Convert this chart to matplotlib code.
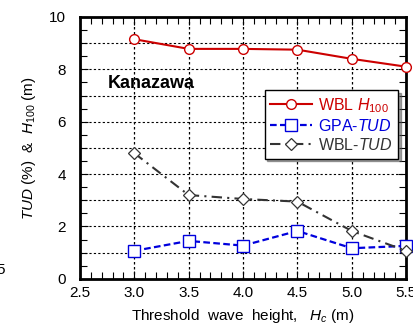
import numpy as np
import matplotlib
matplotlib.use("Agg")
import matplotlib.pyplot as plt
from matplotlib.ticker import MultipleLocator

plt.rcParams['font.family'] = ['Liberation Sans', 'DejaVu Sans']
plt.rcParams['mathtext.fontset'] = 'custom'
plt.rcParams['mathtext.rm'] = 'Liberation Sans'
plt.rcParams['mathtext.it'] = 'Liberation Sans:italic'

# threshold wave heights (m)
hc = [3.0, 3.5, 4.0, 4.5, 5.0, 5.5]
# return wave height H100 (m) and TUD (%) for each threshold
wbl_h100 = [9.15, 8.78, 8.78, 8.75, 8.40, 8.10]
gpa_tud = [1.07, 1.45, 1.27, 1.83, 1.17, 1.26]
wbl_tud = [4.80, 3.20, 3.05, 2.95, 1.83, 1.07]

fig = plt.figure(figsize=(4.14, 3.32), dpi=100)
ax = fig.add_axes([0.193, 0.160, 0.788, 0.789])

# dotted grid: every 1 on y, every 0.5 on x
for yv in range(1, 10):
    ax.axhline(yv, color='black', ls=(0, (2, 2)), lw=0.8, zorder=1)
for xv in [3.0, 3.5, 4.0, 4.5, 5.0]:
    ax.axvline(xv, color='black', ls=(0, (2, 2)), lw=0.9, zorder=1)

ax.plot(hc, wbl_h100, color='#cc0000', lw=1.5, marker='o', ms=7,
        mfc='white', mec='#cc0000', mew=1.0, label=r'WBL $\it{H}_{\rm 100}$', zorder=5,
        clip_on=False)
ax.plot(hc, gpa_tud, color='#0000dd', lw=1.6, ls=(0, (3, 1.5)), marker='s', ms=8,
        mfc='white', mec='#0000dd', mew=1.0, label=r'GPA-$\it{TUD}$', zorder=5,
        clip_on=False)
ax.plot(hc, wbl_tud, color='#333333', lw=1.5, ls=(0, (5, 2.5, 1, 2.5)), marker='D', ms=6.5,
        mfc='white', mec='#333333', mew=0.9, label=r'WBL-$\it{TUD}$', zorder=5,
        clip_on=False)

ax.set_xlim(2.5, 5.5)
ax.set_ylim(0, 10)
ax.xaxis.set_major_locator(MultipleLocator(0.5))
ax.xaxis.set_minor_locator(MultipleLocator(0.1))
ax.yaxis.set_major_locator(MultipleLocator(2))
ax.yaxis.set_minor_locator(MultipleLocator(0.5))
ax.xaxis.set_major_formatter(matplotlib.ticker.FormatStrFormatter('%.1f'))
ax.tick_params(which='both', direction='in', top=True, right=True,
               labelsize=11, width=0.8)
ax.tick_params(which='major', length=6)
ax.tick_params(which='minor', length=5)
ax.tick_params(axis='y', which='major', pad=10)
ax.tick_params(axis='x', which='major', pad=5)
for sp in ax.spines.values():
    sp.set_linewidth(2.0)

ax.set_xlabel(r'Threshold  wave  height,   $\it{H}_{c}$ (m)', fontsize=11, labelpad=5)
ax.set_ylabel(r'$\it{TUD}$ (%)  &  $\it{H}_{\rm 100}$ (m)', fontsize=11, labelpad=8)

ax.text(2.76, 7.45, 'Kanazawa', fontsize=13, fontweight='bold', va='center', zorder=6)

leg = ax.legend(loc='upper right', bbox_to_anchor=(0.975, 0.72), fontsize=11.5,
                frameon=True, fancybox=False, shadow=True, borderpad=0.35,
                handlelength=2.6, handletextpad=0.4, labelspacing=0.2,
                borderaxespad=0)
leg.get_frame().set_edgecolor('black')
leg.get_frame().set_linewidth(1.0)
leg.set_zorder(10)
for txt, c in zip(leg.get_texts(), ['#cc0000', '#0000dd', '#333333']):
    txt.set_color(c)

# cut-off tick label from the neighbouring panel
fig.text(-0.008, 0.175, '5', fontsize=11)

fig.savefig('out.png', dpi=100)
